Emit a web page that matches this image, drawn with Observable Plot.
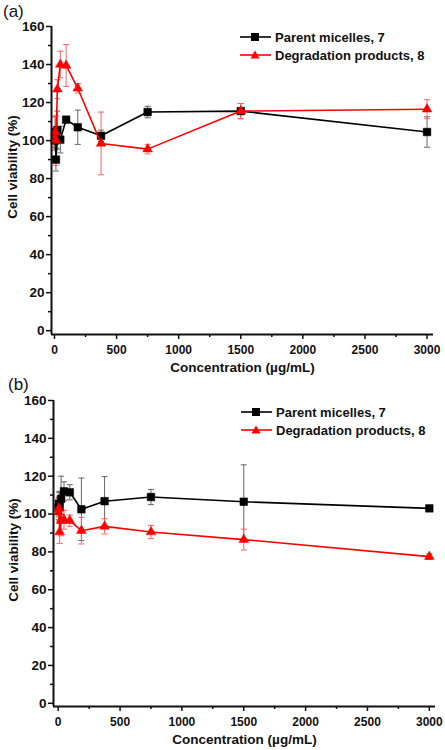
<!DOCTYPE html>
<html>
<head>
<meta charset="utf-8">
<script src="https://cdn.jsdelivr.net/npm/d3@7"></script>
<script src="https://cdn.jsdelivr.net/npm/@observablehq/plot@0.6"></script>
<style>
  html, body { margin: 0; padding: 0; background: #fff; }
  body { width: 445px; height: 750px; overflow: hidden; font-family: "Liberation Sans", Arial, sans-serif; }
  .panel { position: relative; width: 445px; height: 375px; }
  .tag { position: absolute; font-size: 17px; color: #111; }
  .ylab { position: absolute; font-size: 13.5px; font-weight: bold; color: #111; white-space: nowrap;
          transform: translate(-50%, -50%) rotate(-90deg); }
  .legend { position: absolute; font-size: 13px; font-weight: bold; color: #111; }
  .legend .row { display: flex; align-items: center; height: 18px; }
  .legend svg { margin-right: 4px; }
</style>
</head>
<body>
<div id="root"></div>
<script>
// ---- data ----
const conc = [2.9, 5.9, 11.7, 23.4, 46.9, 93.8, 187.5, 375, 750, 1500, 3000];
// panel (a)
const aParent    = [100, 104.5, 90, 105.5, 100.5, 111, 107, 102.5, 115, 115.5, 104.5];
const aParentErr = [5, 8, 6, 10, 7, 1.5, 9, 3, 3, 4, 8];
const aDeg       = [101, 104.5, 100, 127, 140, 139.5, 127.5, 98.5, 95.5, 115.5, 116.5];
const aDegErr    = [4, 8, 13, 5, 7, 11, 2.5, 16.5, 2.5, 4, 5];
// panel (b)
const bParent    = [103.5, 105.5, 104, 108, 112, 111.5, 102.5, 106.8, 109, 106.5, 103];
const bParentErr = [5, 6, 8, 12, 5, 4, 16.5, 13, 4, 19.5, 1];
const bDeg       = [101, 103, 90.5, 96.5, 97, 96.5, 91.2, 93.5, 90.5, 86.5, 77.5];
const bDegErr    = [4, 6, 6, 8, 5, 3, 7, 4, 3.5, 5.5, 1.5];
const seriesNames = ["Parent micelles, 7", "Degradation products, 8"];
const xTicks = [0, 500, 1000, 1500, 2000, 2500, 3000];
const xMinor = [250, 750, 1250, 1750, 2250, 2750];
const yTicks = [0, 20, 40, 60, 80, 100, 120, 140, 160];
const yMinor = [10, 30, 50, 70, 90, 110, 130, 150];
const panelTags = ["(a)", "(b)"];
const xLabel = "Concentration (\u00b5g/mL)";
const yLabel = "Cell viability (%)";

const colors = ["#000000", "#ff0000"];
const barColors = ["#666666", "#ff6060"];
const symbols = ["square", "triangle"];

const capSymbol = {
  draw(ctx, size) {
    const r = Math.sqrt(size / Math.PI);
    ctx.moveTo(-r, 0); ctx.lineTo(r, 0);
  }
};

function rows(parent, pErr, deg, dErr) {
  const out = [];
  conc.forEach((c, i) => out.push({x: c, y: parent[i], e: pErr[i], s: 0}));
  conc.forEach((c, i) => out.push({x: c, y: deg[i], e: dErr[i], s: 1}));
  return out;
}

function makePanel(data, cfg) {
  const marks = [];
  for (const s of [0, 1]) {
    const d = data.filter(r => r.s === s);
    marks.push(Plot.ruleX(d, {x: "x", y1: r => r.y - r.e, y2: r => r.y + r.e, stroke: barColors[s], strokeWidth: 1}));
    marks.push(Plot.dot(d, {x: "x", y: r => r.y - r.e, symbol: capSymbol, r: 3, stroke: barColors[s], strokeWidth: 1, fill: "none"}));
    marks.push(Plot.dot(d, {x: "x", y: r => r.y + r.e, symbol: capSymbol, r: 3, stroke: barColors[s], strokeWidth: 1, fill: "none"}));
  }
  for (const s of [0, 1]) {
    const d = data.filter(r => r.s === s);
    marks.push(Plot.line(d, {x: "x", y: "y", stroke: colors[s], strokeWidth: 1.6}));
    marks.push(Plot.dot(d, {x: "x", y: "y", symbol: symbols[s], r: s === 0 ? 4.3 : 3.6, fill: colors[s], stroke: colors[s], strokeWidth: 0.5}));
  }
  const fmt = d => String(d);
  // axes
  marks.push(Plot.axisY({ticks: yMinor, tickSize: 3, tickFormat: () => "", strokeWidth: 1.5, label: null}));
  marks.push(Plot.axisY({ticks: yTicks, tickSize: 5, tickPadding: 2, strokeWidth: 1.5, fontSize: 13.5, fontWeight: "bold", tickFormat: fmt, label: null}));
  marks.push(Plot.axisX({ticks: xMinor, tickSize: 3, tickFormat: () => "", strokeWidth: 1.5, label: null}));
  marks.push(Plot.axisX({ticks: xTicks, tickSize: 5, tickPadding: 6, strokeWidth: 1.5, fontSize: 12, fontWeight: "bold", tickFormat: fmt, label: null}));
  marks.push(Plot.axisX({ticks: [], fontSize: 13.5, fontWeight: "bold",
    label: xLabel, labelAnchor: "center", labelArrow: "none", labelOffset: cfg.xLabelOffset}));
  marks.push(Plot.ruleX([cfg.xDomain[0]], {stroke: "#111", strokeWidth: 2}));
  marks.push(Plot.ruleY([cfg.yDomain[0]], {stroke: "#111", strokeWidth: 2}));

  return Plot.plot({
    width: 445, height: 375,
    marginLeft: cfg.ml, marginRight: cfg.mr, marginTop: cfg.mt, marginBottom: cfg.mb,
    x: {domain: cfg.xDomain},
    y: {domain: cfg.yDomain},
    style: {fontFamily: "'Liberation Sans', Arial, sans-serif", fontSize: "13px", fontWeight: "bold", color: "#111", background: "transparent", overflow: "visible"},
    marks
  });
}

function legendRow(s) {
  const row = document.createElement("div");
  row.className = "row";
  const sym = s === 0
    ? `<rect x="11" y="5" width="8" height="8" fill="#000"/>`
    : `<path d="M15,4.5 L19.5,12.5 L10.5,12.5 Z" fill="#f00"/>`;
  row.innerHTML = `<svg width="31" height="18"><line x1="0" x2="31" y1="9" y2="9" stroke="${colors[s]}" stroke-width="1.6"/>${sym}</svg><span>${seriesNames[s]}</span>`;
  return row;
}

const cfgs = [
  {data: rows(aParent, aParentErr, aDeg, aDegErr), xDomain: [-24, 3052], yDomain: [-2, 160], ml: 51, mr: 12, mt: 26, mb: 41,
   xLabelOffset: 37, ylab: {left: 12, top: 167}, tag: {left: 3, top: 2}, legend: {left: 240, top: 28}},
  {data: rows(bParent, bParentErr, bDeg, bDegErr), xDomain: [-38, 3050], yDomain: [-1.7, 160], ml: 53, mr: 10, mt: 25, mb: 44,
   xLabelOffset: 37, ylab: {left: 13, top: 175}, tag: {left: 8, top: 0}, legend: {left: 241, top: 28}}
];

const root = document.getElementById("root");
cfgs.forEach((cfg, i) => {
  const panel = document.createElement("div");
  panel.className = "panel";
  panel.appendChild(makePanel(cfg.data, cfg));
  const tag = document.createElement("div");
  tag.className = "tag";
  tag.style.left = cfg.tag.left + "px"; tag.style.top = cfg.tag.top + "px";
  tag.textContent = panelTags[i];
  panel.appendChild(tag);
  const yl = document.createElement("div");
  yl.className = "ylab";
  yl.style.left = cfg.ylab.left + "px"; yl.style.top = cfg.ylab.top + "px";
  yl.textContent = yLabel;
  panel.appendChild(yl);
  const lg = document.createElement("div");
  lg.className = "legend";
  lg.style.left = cfg.legend.left + "px"; lg.style.top = cfg.legend.top + "px";
  lg.appendChild(legendRow(0)); lg.appendChild(legendRow(1));
  panel.appendChild(lg);
  root.appendChild(panel);
});
</script>
</body>
</html>
